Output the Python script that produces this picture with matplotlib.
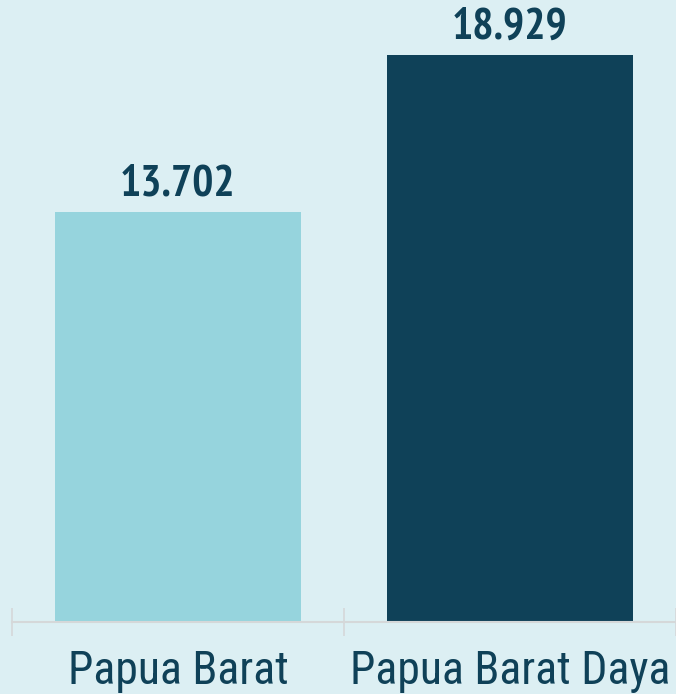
import matplotlib.pyplot as plt

regions = ["Papua Barat", "Papua Barat Daya"]
values = [13.702, 18.929]
value_labels = ["13.702", "18.929"]
bar_colors = ["#96D4DD", "#0F4158"]

bg = "#DCEFF3"
txt = "#0F4158"
fam = ["Roboto Condensed", "Liberation Sans"]
fam_bold = ["PT Sans Narrow", "Roboto Condensed", "Liberation Sans"]

fig = plt.figure(figsize=(6.76, 6.94), dpi=100, facecolor=bg)
ax = fig.add_axes([12 / 676, 72 / 694, 664 / 676, 622 / 694])
ax.set_facecolor(bg)

x = range(len(regions))
ax.bar(x, values, width=0.74, color=bar_colors)
for i, v in enumerate(values):
    ax.annotate(value_labels[i], (i, v), xytext=(0, 11.5), textcoords="offset points",
                ha="center", va="baseline", fontsize=32, fontweight="bold",
                color=txt, family=fam_bold)
    ax.annotate(regions[i], (i, 0), xytext=(0, -44.6), textcoords="offset points",
                ha="center", va="baseline", fontsize=33, color=txt, family=fam,
                annotation_clip=False)

ax.set_xlim(-0.5, 1.5)
ax.set_ylim(0, 622 / 29.95)
ax.set_yticks([])
ax.set_xticks([-0.5, 0.5, 1.5])
ax.set_xticklabels([])
ax.tick_params(axis="x", direction="inout", length=20, width=1.2, color="#D5D8D9")

for s in ["top", "right", "left"]:
    ax.spines[s].set_visible(False)
ax.spines["bottom"].set_color("#D5D8D9")
ax.spines["bottom"].set_linewidth(1.5)

fig.savefig("out.png", dpi=100, facecolor=bg)
